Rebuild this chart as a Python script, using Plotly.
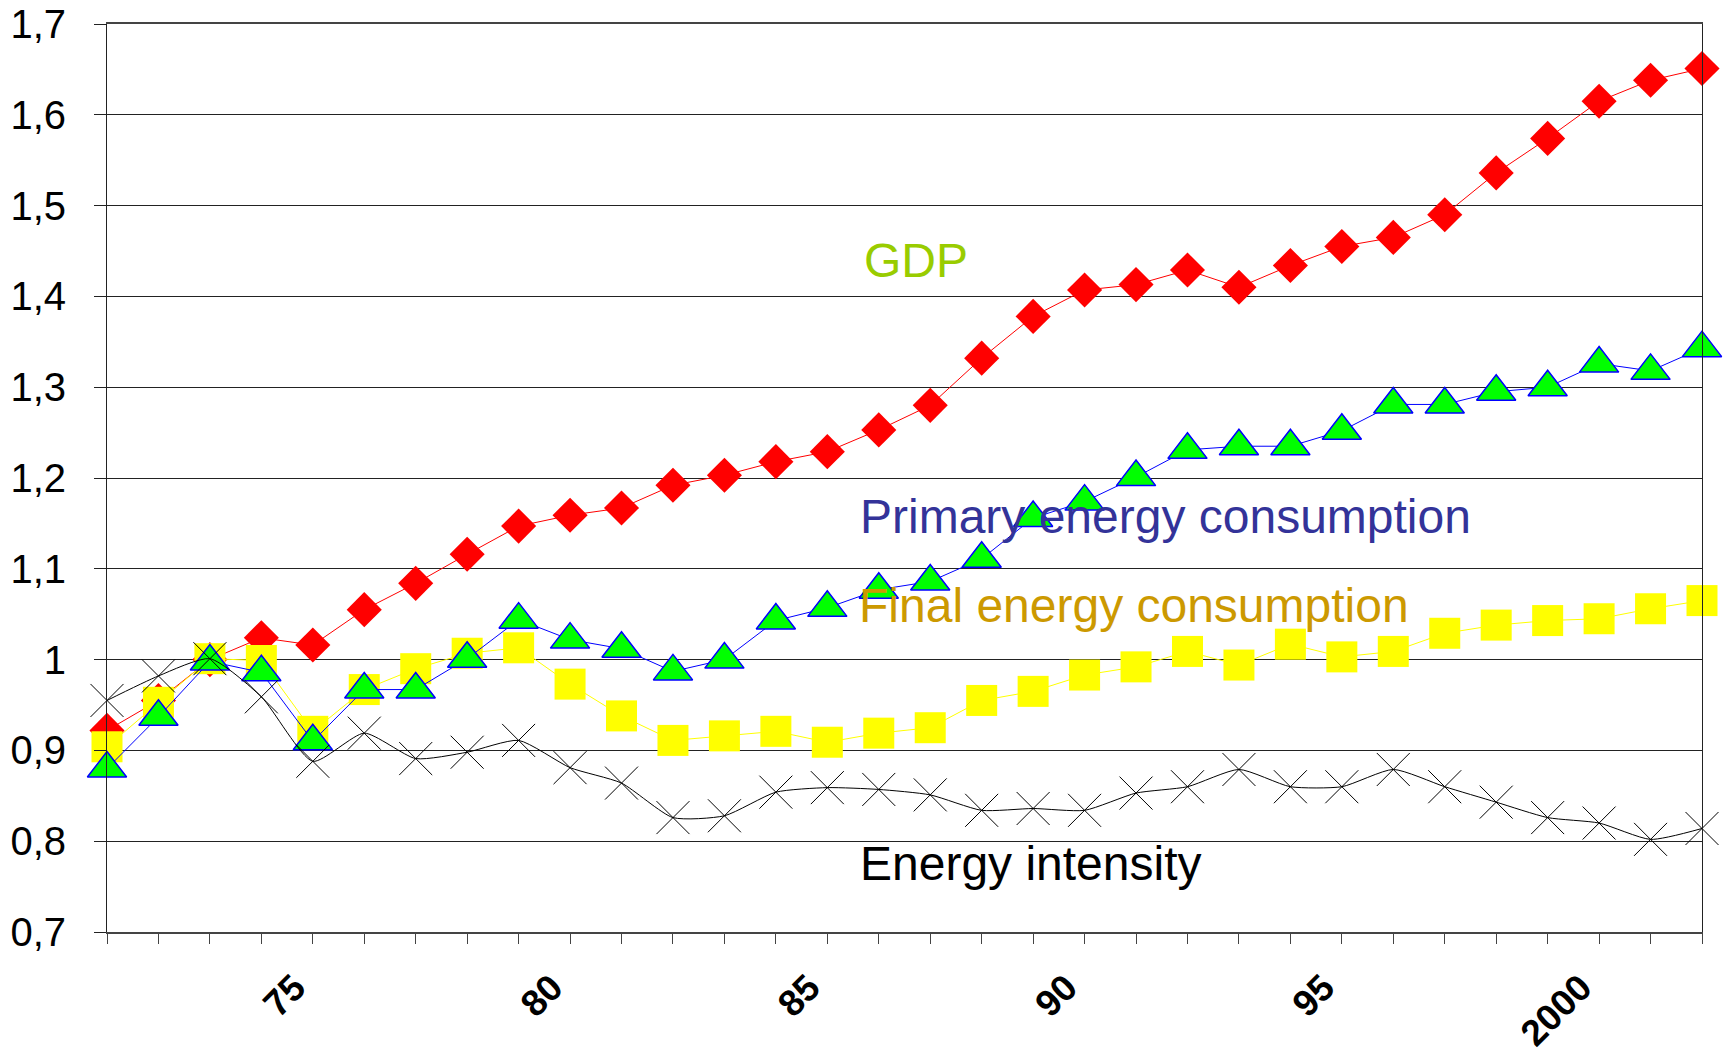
import plotly.graph_objects as go

years = list(range(1971, 2003))

gdp = [0.922, 0.955, 1.000, 1.024, 1.016, 1.055, 1.084, 1.116, 1.147, 1.159,
       1.167, 1.192, 1.203, 1.218, 1.229, 1.253, 1.280, 1.332, 1.378, 1.407,
       1.413, 1.429, 1.410, 1.434, 1.455, 1.465, 1.490, 1.536, 1.574, 1.615,
       1.638, 1.651]

primary = [0.880, 0.937, 0.998, 0.986, 0.910, 0.967, 0.967, 1.001, 1.044, 1.022,
           1.012, 0.987, 1.000, 1.043, 1.057, 1.077, 1.086, 1.111, 1.156, 1.174,
           1.201, 1.231, 1.235, 1.235, 1.252, 1.281, 1.281, 1.295, 1.300, 1.326,
           1.318, 1.343]

final = [0.904, 0.953, 1.001, 0.999, 0.921, 0.967, 0.990, 1.007, 1.013, 0.973,
         0.938, 0.911, 0.916, 0.921, 0.909, 0.919, 0.925, 0.955, 0.965, 0.983,
         0.992, 1.009, 0.994, 1.017, 1.003, 1.009, 1.029, 1.038, 1.043, 1.045,
         1.056, 1.065]

intensity = [0.955, 0.982, 1.001, 0.959, 0.888, 0.919, 0.891, 0.898, 0.911, 0.881,
             0.864, 0.826, 0.828, 0.854, 0.859, 0.857, 0.851, 0.834, 0.836, 0.834,
             0.853, 0.860, 0.879, 0.860, 0.860, 0.879, 0.860, 0.843, 0.826, 0.820,
             0.802, 0.814]

label_years = [1975, 1980, 1985, 1990, 1995, 2000]
label_text = ["75", "80", "85", "90", "95", "2000"]
tick_text = [label_text[label_years.index(y)] if y in label_years else "" for y in years]

series_names = ["GDP", "Primary energy consumption", "Final energy consumption", "Energy intensity"]

fig = go.Figure()

fig.add_trace(go.Scatter(
    x=years, y=gdp, name=series_names[0], mode="lines+markers",
    line=dict(color="#ff0000", width=1),
    marker=dict(symbol="diamond", size=27, color="#ff0000", line=dict(width=0)),
    cliponaxis=False,
))
fig.add_trace(go.Scatter(
    x=years, y=final, name=series_names[2], mode="lines+markers",
    line=dict(color="#ffff00", width=1),
    marker=dict(symbol="square", size=31, color="#ffff00", line=dict(width=0)),
    cliponaxis=False,
))
fig.add_trace(go.Scatter(
    x=years, y=primary, name=series_names[1], mode="lines+markers",
    line=dict(color="#0000ff", width=1),
    marker=dict(symbol="triangle-up", size=34, color="#00ff00",
                line=dict(width=1.5, color="#0000ff")),
    cliponaxis=False,
))
fig.add_trace(go.Scatter(
    x=years, y=intensity, name=series_names[3], mode="lines+markers",
    line=dict(color="#000000", width=1, shape="spline", smoothing=0.6),
    marker=dict(symbol="x-thin", size=33, color="#000000",
                line=dict(width=1, color="#000000")),
    cliponaxis=False,
))

L, T, W, H = 107, 24, 1595, 908


def px_to_paper(xp, yp):
    return (xp - L) / W, 1 - (yp - T) / H


annots = [
    ("GDP", "#99cc00", 862, 276),
    ("Primary energy consumption", "#333399", 858, 532),
    ("Final energy consumption", "#cc9900", 857, 621),
    ("Energy intensity", "#000000", 858, 879),
]
for text, color, xp, base in annots:
    ax, ay = px_to_paper(xp, base - 44)
    fig.add_annotation(
        text=text, x=ax, y=ay, xref="paper", yref="paper",
        xanchor="left", yanchor="top", showarrow=False,
        font=dict(family="Liberation Sans, Arial, sans-serif", size=48, color=color),
    )

fig.update_layout(
    width=1730, height=1056,
    margin=dict(l=L, r=1730 - L - W, t=T, b=1056 - T - H),
    paper_bgcolor="white", plot_bgcolor="white",
    showlegend=False,
    separators=", ",
    font=dict(family="Liberation Sans, Arial, sans-serif", color="black"),
)

fig.update_xaxes(
    range=[1971, 2002], automargin=False,
    tickmode="array", tickvals=years, ticktext=tick_text,
    tickangle=-45,
    ticks="outside", ticklen=10, tickcolor="#444", tickwidth=1,
    ticklabelshift=-18, ticklabelstandoff=7,
    tickfont=dict(family="Liberation Sans, Arial, sans-serif", size=37, weight="bold", color="black"),
    showgrid=False, zeroline=False,
    showline=True, linecolor="#444", linewidth=2, mirror=True,
)
fig.update_yaxes(
    range=[0.7, 1.7], tick0=0.7, dtick=0.1, automargin=False,
    ticks="outside", ticklen=12, tickcolor="#222", tickwidth=1,
    ticklabelstandoff=20,
    tickfont=dict(family="Liberation Sans, Arial, sans-serif", size=40, color="black"),
    showgrid=True, gridcolor="#222", gridwidth=1,
    zeroline=False,
    showline=True, linecolor="#222", linewidth=1, mirror=True,
)

fig.write_html(
    "out.html",
    config={"displayModeBar": False},
    post_script="document.body.style.margin='0';document.body.style.overflow='hidden';",
)
